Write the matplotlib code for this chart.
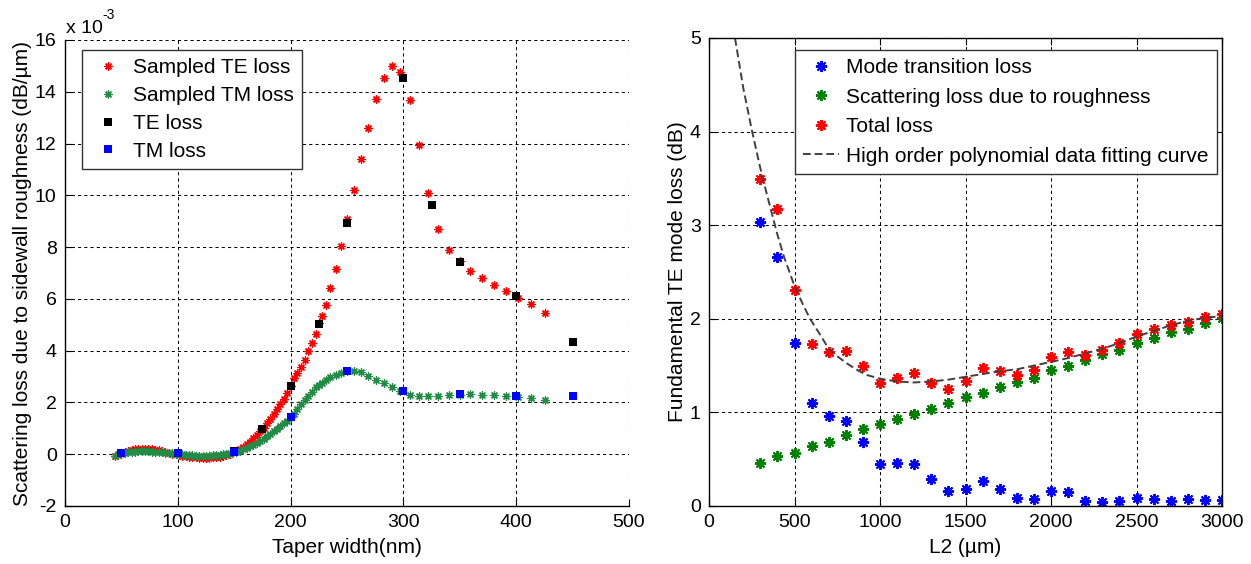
import matplotlib
matplotlib.use('Agg')
import matplotlib.pyplot as plt

# ---------------- data: left panel (values in units of 1e-3 dB/um) ----------------
dense_x = [44, 47, 50, 53, 56, 59, 62, 65, 68, 71, 74, 77, 80, 83, 86, 89, 92, 95, 98,
           101, 104, 107, 110, 113, 116, 119, 122, 125, 128, 131, 134, 137, 140, 143,
           146, 149, 152, 155, 158, 161, 164, 167, 170, 173, 176, 179, 182, 185, 188,
           191, 194, 197, 200]
te_dense = [-0.08, -0.02, 0.04, 0.09, 0.13, 0.17, 0.19, 0.21, 0.22, 0.22, 0.21, 0.20,
            0.18, 0.15, 0.12, 0.08, 0.05, 0.02, -0.01, -0.04, -0.06, -0.08, -0.10,
            -0.11, -0.12, -0.13, -0.13, -0.13, -0.13, -0.12, -0.11, -0.09, -0.06,
            -0.03, 0.01, 0.07, 0.14, 0.21, 0.29, 0.38, 0.49, 0.61, 0.74, 0.88, 1.03,
            1.19, 1.36, 1.54, 1.73, 1.93, 2.14, 2.37, 2.62]
tm_dense = [-0.05, -0.01, 0.02, 0.05, 0.07, 0.09, 0.10, 0.11, 0.11, 0.11, 0.11, 0.10,
            0.09, 0.08, 0.07, 0.06, 0.04, 0.03, 0.01, 0.00, -0.01, -0.02, -0.03,
            -0.04, -0.05, -0.05, -0.05, -0.05, -0.05, -0.04, -0.03, -0.02, 0.00,
            0.02, 0.04, 0.07, 0.10, 0.14, 0.19, 0.24, 0.30, 0.37, 0.44, 0.52, 0.60,
            0.69, 0.78, 0.88, 0.98, 1.08, 1.19, 1.30, 1.42]

sparse_x = [203, 206, 209.5, 212.5, 215.5, 219, 222.5, 225.5, 228, 231, 235, 240, 245,
            250, 256, 262, 268.5, 275.5, 282.5, 290, 297, 305.5, 313.5, 322, 330.8,
            340.3, 349.8, 359.4, 369.6, 380.3, 390.8, 401.5, 412.7, 425.2]
te_sparse = [2.95, 3.15, 3.38, 3.65, 3.97, 4.30, 4.66, 5.05, 5.35, 5.78, 6.43, 7.16,
             8.04, 9.10, 10.19, 11.42, 12.62, 13.72, 14.53, 14.98, 14.76, 13.68, 11.94,
             10.08, 8.69, 7.88, 7.45, 7.07, 6.80, 6.55, 6.30, 6.02, 5.81, 5.47]
tm_sparse = [1.55, 1.75, 1.93, 2.08, 2.25, 2.42, 2.58, 2.68, 2.76, 2.87, 2.97, 3.07,
             3.15, 3.21, 3.23, 3.17, 3.03, 2.86, 2.74, 2.60, 2.44, 2.29, 2.24, 2.24,
             2.24, 2.27, 2.28, 2.31, 2.29, 2.28, 2.23, 2.21, 2.17, 2.10]

te_loss_x = [50, 100, 150, 175, 200, 225, 250, 300, 325, 350, 400, 450]
te_loss = [0.05, 0.03, 0.12, 0.97, 2.64, 5.03, 8.92, 14.53, 9.62, 7.43, 6.13, 4.34]
tm_loss_x = [50, 100, 150, 200, 250, 300, 350, 400, 450]
tm_loss = [0.05, 0.03, 0.07, 1.42, 3.22, 2.44, 2.31, 2.23, 2.23]

# ---------------- data: right panel ----------------
l2 = [300, 400, 500, 600, 700, 800, 900, 1000, 1100, 1200, 1300, 1400, 1500, 1600,
      1700, 1800, 1900, 2000, 2100, 2200, 2300, 2400, 2500, 2600, 2700, 2800, 2900, 3000]
mode_loss = [3.03, 2.66, 1.745, 1.10, 0.96, 0.91, 0.68, 0.445, 0.46, 0.45, 0.285, 0.165,
             0.185, 0.27, 0.185, 0.09, 0.07, 0.155, 0.15, 0.057, 0.04, 0.057, 0.09,
             0.08, 0.057, 0.075, 0.06, 0.06]
scat_loss = [0.46, 0.53, 0.57, 0.64, 0.68, 0.76, 0.82, 0.876, 0.926, 0.98, 1.04, 1.10,
             1.16, 1.21, 1.27, 1.32, 1.37, 1.45, 1.50, 1.56, 1.62, 1.67, 1.74, 1.80,
             1.86, 1.89, 1.95, 2.01]
total_loss = [3.49, 3.17, 2.31, 1.73, 1.64, 1.66, 1.50, 1.31, 1.37, 1.42, 1.31, 1.25,
              1.335, 1.47, 1.445, 1.40, 1.45, 1.595, 1.645, 1.61, 1.67, 1.74, 1.84,
              1.89, 1.93, 1.97, 2.02, 2.05]
fit_x = [152, 200, 250, 300, 337, 400, 439, 500, 550, 591, 650, 698, 750, 805, 860, 922,
         1000, 1100, 1200, 1300, 1400, 1500, 1600, 1700, 1800, 1900, 2000, 2100, 2200,
         2300, 2400, 2500, 2600, 2700, 2800, 2900, 3000]
fit_y = [5.0, 4.47, 4.02, 3.61, 3.34, 2.90, 2.66, 2.35, 2.15, 2.0, 1.83, 1.685, 1.60,
         1.525, 1.46, 1.40, 1.36, 1.33, 1.32, 1.33, 1.35, 1.38, 1.41, 1.44, 1.46, 1.50,
         1.54, 1.58, 1.63, 1.68, 1.74, 1.81, 1.87, 1.93, 1.98, 2.01, 2.03]

left_xticks = [0, 100, 200, 300, 400, 500]
left_yticks = [-2, 0, 2, 4, 6, 8, 10, 12, 14, 16]
right_xticks = [0, 500, 1000, 1500, 2000, 2500, 3000]
right_yticks = [0, 1, 2, 3, 4, 5]

# ---------------- style ----------------
plt.rcParams['font.family'] = ['Liberation Sans', 'DejaVu Sans']
plt.rcParams['axes.unicode_minus'] = False
TICK_FS = 14
LABEL_FS = 15
LEG_FS = 15
ASTER = (8, 2, 0)
GRID_KW = dict(color='black', linestyle=(0, (3, 3)), linewidth=0.75)

W, H = 1251, 564
fig = plt.figure(figsize=(W / 100, H / 100), dpi=100)
ax1 = fig.add_axes([65 / W, 1 - 506 / H, 564 / W, 466 / H])
ax2 = fig.add_axes([709 / W, 1 - 506 / H, 513 / W, 468 / H])

# ---------------- left panel ----------------
red = '#ff0000'
green_l = '#228b45'
ax1.plot(dense_x + sparse_x, te_dense + te_sparse, linestyle='none', marker=ASTER,
         ms=5.8, mew=0.9, color=red, label='Sampled TE loss')
ax1.plot(dense_x + sparse_x, tm_dense + tm_sparse, linestyle='none', marker=ASTER,
         ms=5.8, mew=0.9, color=green_l, label='Sampled TM loss')
ax1.plot(te_loss_x, te_loss, linestyle='none', marker='s', ms=6.3, mew=0,
         color='black', label='TE loss')
ax1.plot(tm_loss_x, tm_loss, linestyle='none', marker='s', ms=6.3, mew=0,
         color='#0000ff', label='TM loss')
ax1.set_xlim(0, 500)
ax1.set_ylim(-2, 16)
ax1.set_xticks(left_xticks)
ax1.set_yticks(left_yticks)
ax1.set_axisbelow(True)
ax1.grid(True, **GRID_KW)
ax1.spines['top'].set_visible(False)
ax1.spines['right'].set_visible(False)
for s in ('left', 'bottom'):
    ax1.spines[s].set_linewidth(1.0)
ax1.tick_params(direction='in', length=5, width=0.8, labelsize=TICK_FS, pad=6,
                top=False, right=False)
ax1.set_xlabel('Taper width(nm)', fontsize=LABEL_FS, labelpad=5)
ax1.set_ylabel('Scattering loss due to sidewall roughness (dB/\u00b5m)',
               fontsize=LABEL_FS, labelpad=2)
fig.text(66 / W, 1 - 33 / H, 'x 10', fontsize=TICK_FS, ha='left', va='baseline')
fig.text(102 / W, 1 - 19 / H, '-3', fontsize=10, ha='left', va='baseline')
leg1 = ax1.legend(loc='upper left', bbox_to_anchor=(0.030, 0.9785), borderaxespad=0,
                  fontsize=LEG_FS, frameon=True, fancybox=False, framealpha=1,
                  edgecolor='#333333', borderpad=0.4, labelspacing=0.42,
                  handlelength=1.75, handletextpad=0.3, markerscale=1.0)
leg1.get_frame().set_linewidth(1.0)

# ---------------- right panel ----------------
MK2 = dict(linestyle='none', marker=ASTER, ms=8.0, mew=1.4)
ax2.plot(l2, mode_loss, color='#0000ff', label='Mode transition loss', **MK2)
ax2.plot(l2, scat_loss, color='#008000', label='Scattering loss due to roughness', **MK2)
ax2.plot(l2, total_loss, color=red, label='Total loss', **MK2)
ax2.plot(fit_x, fit_y, color='#404040', linestyle=(0, (4, 2)), linewidth=1.4,
         label='High order polynomial data fitting curve')
ax2.set_xlim(0, 3000)
ax2.set_ylim(0, 5)
ax2.set_xticks(right_xticks)
ax2.set_yticks(right_yticks)
ax2.set_axisbelow(True)
ax2.grid(True, **GRID_KW)
for s in ax2.spines.values():
    s.set_linewidth(1.0)
ax2.tick_params(direction='in', length=5, width=0.8, labelsize=TICK_FS, pad=6,
                top=True, right=True)
ax2.set_xlabel('L2 (\u00b5m)', fontsize=LABEL_FS, labelpad=5)
ax2.set_ylabel('Fundamental TE mode loss (dB)', fontsize=LABEL_FS, labelpad=2)
leg2 = ax2.legend(loc='upper left', bbox_to_anchor=(0.1676, 0.9744), borderaxespad=0,
                  fontsize=LEG_FS, frameon=True, fancybox=False, framealpha=1,
                  edgecolor='#333333', borderpad=0.4, labelspacing=0.5,
                  handlelength=1.7, handletextpad=0.35)
leg2.get_frame().set_linewidth(1.0)

fig.savefig('out.png', dpi=100)
